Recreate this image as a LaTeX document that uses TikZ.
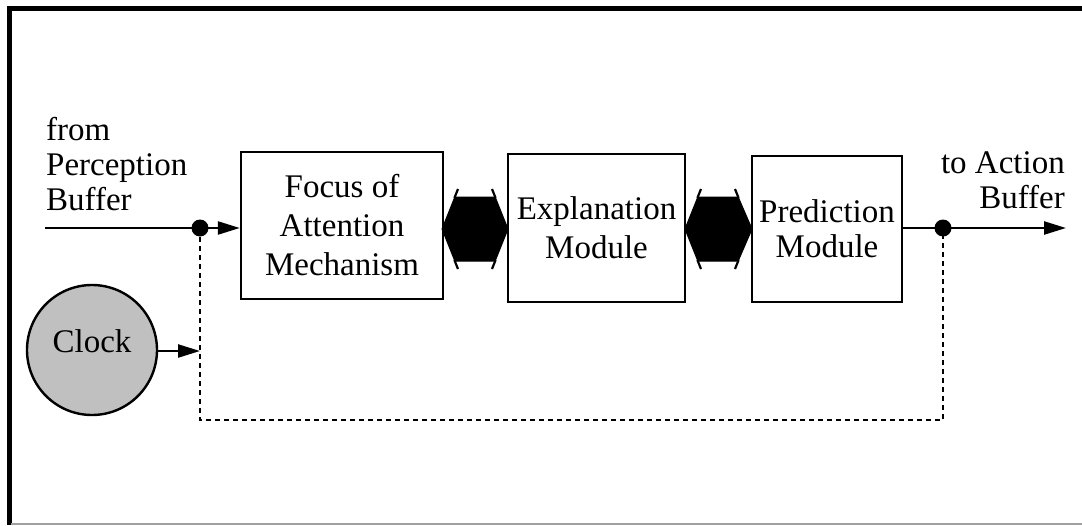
\documentclass[tikz,border=0pt]{standalone}
\usepackage{fontspec}
\setmainfont{Liberation Serif}
\usetikzlibrary{arrows.meta}
\definecolor{clockgray}{HTML}{C0C0C0}
\definecolor{rulegray}{HTML}{A0A0A0}
\begin{document}
\begin{tikzpicture}[x=1pt,y=-1pt,
  every node/.style={font=\fontsize{33}{39}\selectfont},
  tight/.style={font=\fontsize{33}{35}\selectfont},
  box/.style={draw,line width=2.4pt,align=center,inner sep=0pt},
  wire/.style={line width=2.4pt},
  feed/.style={line width=2.4pt,dash pattern=on 5pt off 4pt},
  tip/.style={-{Triangle[length=22pt,width=13pt]}},
  junction/.style={circle,fill=black,inner sep=0pt,minimum size=17pt},
  pics/fatarrow/.style={code={
    \fill[line width=1pt,draw=black,line join=miter]
      (0,0) -- (12.8,-32) -- (53.2,-32) -- (#1,0) -- (53.2,32) -- (12.8,32) -- cycle;
    \draw[line width=2.2pt] (12.4,-31) -- (16,-40) (53.6,-31) -- (50,-40)
                            (12.4,31) -- (16,40) (53.6,31) -- (50,40);
  }}]
\useasboundingbox (0,0) rectangle (1082,525);
% outer frame
\draw[line width=5pt] (9,525) -- (9,8) -- (1082,8);
\draw[rulegray,line width=1.5pt] (11,524) -- (1082,524);

% modules
\node[box,minimum width=202pt,minimum height=147pt] (focus) at (342,225.5)
  {Focus of\\Attention\\Mechanism};
\node[box,minimum width=177pt,minimum height=148pt] (expl) at (596.5,228)
  {Explanation\\Module};
\node[box,tight,minimum width=150pt,minimum height=146pt] (pred) at (827,229)
  {Prediction\\Module};

% bidirectional couplings
\pic at (442,229) {fatarrow=66};
\pic at (685,229) {fatarrow=67};

% clock
\node[circle,draw,line width=2.4pt,fill=clockgray,minimum size=130pt,inner sep=0pt,
  label={[yshift=9pt]center:Clock}] (clock) at (92,350) {};

% input / output
\coordinate (in) at (45,228);
\node[junction] (jin) at (200,228) {};
\node[junction] (jout) at (943,228) {};
\coordinate (out) at (1066,228);
\coordinate (tap) at (200,351);
\coordinate (cl) at (200,420);
\coordinate (cr) at (943,420);

\draw[wire] (in) -- (jin.center);
\draw[wire,tip] (jin.center) -- (focus.west |- jin);
\draw[wire] (pred.east |- jout) -- (jout.center);
\draw[wire,tip] (jout.center) -- (out);
\draw[wire,tip] (clock.east |- tap) -- (tap);
\draw[feed] (jin.center) -- (cl) -- (cr) -- (jout.center);

% labels
\node[tight,anchor=west,align=left,inner sep=0pt] (src) at (46,164)
  {from\\Perception\\Buffer};
\node[tight,anchor=east,align=right,inner sep=0pt] (dst) at (1065,180)
  {to Action\\Buffer};
\end{tikzpicture}
\end{document}
